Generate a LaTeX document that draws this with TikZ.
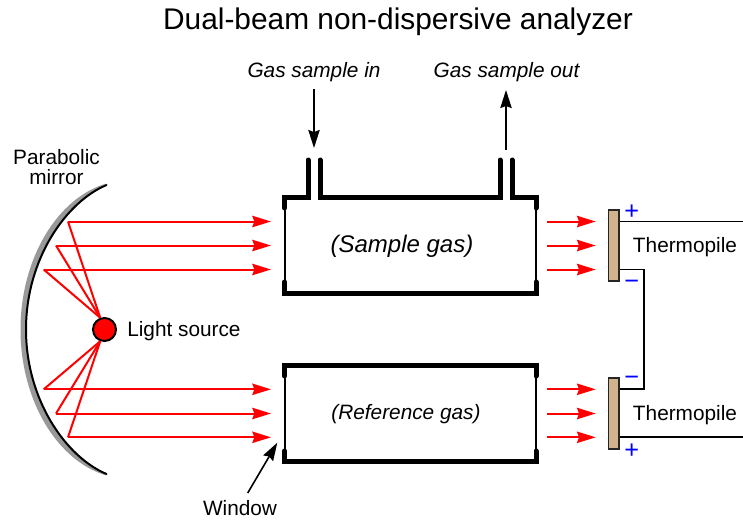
\documentclass[tikz,border=0pt]{standalone}
\usepackage{fontspec}
\setmainfont{Liberation Sans}
\usetikzlibrary{arrows.meta}
\definecolor{tan}{HTML}{D2B48C}
\definecolor{mirrorgray}{HTML}{999999}
\tikzset{
  lbl/.style={font=\fontsize{15.6}{16}\selectfont, inner sep=0pt, align=center},
  gaslbl/.style={lbl, font=\fontsize{15.6}{16}\selectfont\itshape},
  signlbl/.style={font=\fontsize{19}{19}\selectfont, text=blue, inner sep=0pt},
  wall/.style={line width=3.75pt, line cap=round, miter limit=10},
  glass/.style={line width=1.5pt},
  ray/.style={red, line width=1.5pt},
  beam/.style={ray, -{Stealth[length=14pt, width=8.5pt, inset=1.5pt]}},
  flow/.style={line width=1.2pt, -{Stealth[length=13.5pt, width=8.5pt, inset=1.5pt]}},
  wire/.style={line width=1.3pt},
  pile/.style={draw=black!85, fill=tan, line width=1.3pt, minimum width=7.9pt, minimum height=53.3pt, inner sep=0pt},
}
\newcommand{\gascell}[2]{%
  \draw[glass] (284.5,#1) -- (284.5,#2);
  \draw[glass] (536,#1) -- (536,#2);}
\begin{document}
\begin{tikzpicture}[x=0.75pt,y=-0.75pt]
  \useasboundingbox (0,0) rectangle (743,519);
  \node[lbl, font=\fontsize{22.4}{24}\selectfont] (title) at (398,22) {Dual-beam non-dispersive analyzer};
  % mirror
  \fill[mirrorgray] (106.5,183.5) .. controls (57,198) and (20.5,259) .. (20.5,329.5)
    .. controls (20.5,400) and (57,461) .. (106.5,475.5)
    .. controls (66,456) and (26,400) .. (26,329.5)
    .. controls (26,259) and (66,203) .. (106.5,183.5) -- cycle;
  \draw[line width=1.5pt, line cap=round] (106.5,185) .. controls (66,202) and (26,259) .. (26,329.5)
    .. controls (26,400) and (66,457) .. (106.5,474);
  \node[lbl] (mirror) at (56.5,167) {Parabolic\\[-0.5pt]mirror};
  % source and rays
  \node[circle, draw, fill=red, line width=1.5pt, minimum size=17.25pt, inner sep=0pt] (source) at (104.5,329.5) {};
  \node[lbl, anchor=west] (sourcelbl) at (127,331) {Light source};
  \foreach \n/\x/\y in {a/68/221.5, b/56/245.5, c/43.7/269.5} {
    \coordinate (m\n) at (\x,\y);
    \coordinate (c\n) at (271,\y);
    \draw[ray] (source.110) -- (m\n);
    \draw[beam] (m\n) -- (c\n);
  }
  \foreach \n/\x/\y in {d/43.7/389.3, e/56/413.5, f/68/437.3} {
    \coordinate (m\n) at (\x,\y);
    \coordinate (c\n) at (271,\y);
    \draw[ray] (source.250) -- (m\n);
    \draw[beam] (m\n) -- (c\n);
  }
  % cells
  \gascell{205}{285}
  \gascell{373}{454}
  \draw[wall] (284.5,208) -- (284.5,197.5) -- (308,197.5) -- (308,160);
  \draw[wall] (320,160) -- (320,197.5) -- (500,197.5) -- (500,160);
  \draw[wall] (512,160) -- (512,197.5) -- (536,197.5) -- (536,208);
  \draw[wall] (284.5,282) -- (284.5,293.5) -- (536,293.5) -- (536,282);
  \draw[wall] (284.5,376) -- (284.5,365.5) -- (536,365.5) -- (536,376);
  \draw[wall] (284.5,451) -- (284.5,461.5) -- (536,461.5) -- (536,451);
  \node[gaslbl, font=\fontsize{18}{18}\selectfont\itshape] (sample) at (402,246.5) {(Sample gas)};
  \node[gaslbl] (reference) at (406,414.5) {(Reference gas)};
  % gas flow
  \node[gaslbl] (gasin) at (314,72.5) {Gas sample in};
  \node[gaslbl] (gasout) at (506.5,72.5) {Gas sample out};
  \coordinate (intail) at (314,89);
  \coordinate (inhead) at (314,148);
  \coordinate (outtail) at (506,150);
  \coordinate (outhead) at (506,90);
  \draw[flow] (intail) -- (inhead);
  \draw[flow] (outtail) -- (outhead);
  % window
  \node[lbl] (window) at (240,508.5) {Window};
  \coordinate (windowtip) at (277.3,442.7);
  \draw[flow] (247.7,493) -- (windowtip);
  % thermopiles
  \node[pile] (pileA) at (613.8,245.5) {};
  \node[pile] (pileB) at (613.8,413.5) {};
  \foreach \n/\y in {a/221.5, b/245.5, c/269.5, d/389.3, e/413.5, f/437.3} {
    \coordinate (s\n) at (547,\y);
    \coordinate (t\n) at (595.7,\y);
    \draw[beam] (s\n) -- (t\n);
  }
  \coordinate (wireAtop) at (743,221.5);
  \coordinate (wireAbot) at (644,269.5);
  \coordinate (wireBtop) at (644,389.3);
  \coordinate (wireBbot) at (743,437.3);
  \draw[wire] (pileA.east |- wireAtop) -- (wireAtop);
  \draw[wire] (pileA.east |- wireAbot) -- (wireAbot) -- (wireBtop) -- (pileB.east |- wireBtop);
  \draw[wire] (pileB.east |- wireBbot) -- (wireBbot);
  \node[lbl] (pileAlbl) at (685,247.5) {Thermopile};
  \node[lbl] (pileBlbl) at (685,415.5) {Thermopile};
  \node[signlbl] (plusA) at (631.7,212) {+};
  \node[signlbl] (minusA) at (631.7,284.5) {−};
  \node[signlbl] (minusB) at (631.7,380.8) {−};
  \node[signlbl] (plusB) at (631.7,451.3) {+};
\end{tikzpicture}
\end{document}
